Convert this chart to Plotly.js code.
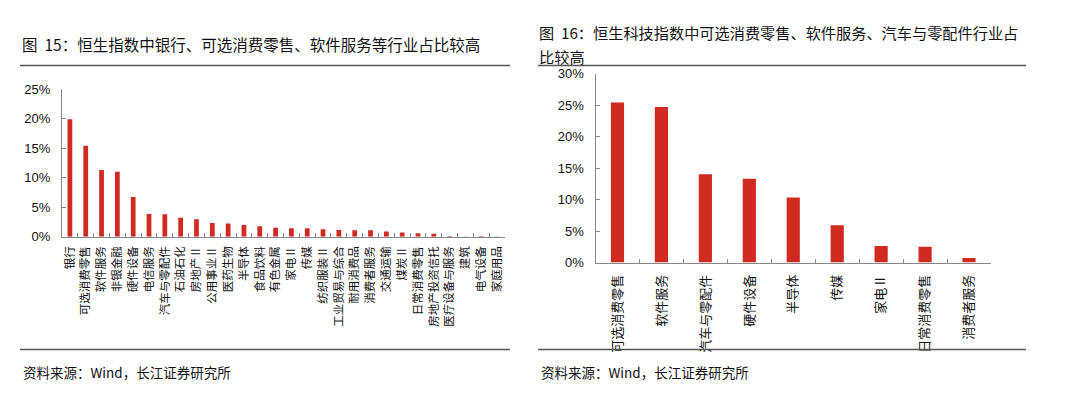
<!DOCTYPE html>
<html>
<head>
<meta charset="utf-8">
<script src="https://cdn.plot.ly/plotly-3.0.1.min.js"></script>
<style>
html,body{margin:0;padding:0;background:#fff;}
#chart{width:1080px;height:398px;}
</style>
</head>
<body>
<div id="chart"></div>
<script>
// Figure 15: Hang Seng Index industry weights
const leftCategories = ['银行','可选消费零售','软件服务','非银金融','硬件设备','电信服务','汽车与零配件','石油石化','房地产Ⅱ','公用事业Ⅱ','医药生物','半导体','食品饮料','有色金属','家电Ⅱ','传媒','纺织服装Ⅱ','工业贸易与综合','耐用消费品','消费者服务','交通运输','煤炭Ⅱ','日常消费零售','房地产投资信托','医疗设备与服务','建筑','电气设备','家庭用品'];
const leftValues = [0.199,0.154,0.113,0.110,0.067,0.0385,0.038,0.032,0.0295,0.023,0.0225,0.020,0.0175,0.0153,0.0142,0.0142,0.0125,0.0113,0.0108,0.0108,0.009,0.0073,0.0058,0.0052,0.001,0.0005,0.001,0.0005];
const leftTicks = [0,0.05,0.10,0.15,0.20,0.25];

// Figure 16: Hang Seng Tech Index industry weights
const rightCategories = ['可选消费零售','软件服务','汽车与零配件','硬件设备','半导体','传媒','家电Ⅱ','日常消费零售','消费者服务'];
const rightValues = [0.254,0.247,0.140,0.133,0.103,0.059,0.026,0.025,0.007];
const rightTicks = [0,0.05,0.10,0.15,0.20,0.25,0.30];

const leftTitle = '图\u00a0\u00a015：恒生指数中银行、可选消费零售、软件服务等行业占比较高';
const rightTitle1 = '图\u00a0\u00a016：恒生科技指数中可选消费零售、软件服务、汽车与零配件行业占';
const rightTitle2 = '比较高';
const sourceText = '资料来源：Wind，长江证券研究所';

const W = 1080, H = 398;
const px = v => v / W;
const py = v => 1 - v / H;

const FONT = 'Liberation Sans, Arial, Noto Sans CJK SC, sans-serif';
const CJK = 'Noto Sans CJK SC, Liberation Sans, sans-serif';
const RED = '#D02B21';
const AX = '#888888';

const traces = [
  {type:'bar', x:leftCategories, y:leftValues, xaxis:'x', yaxis:'y',
   marker:{color:RED, line:{width:0}}, hoverinfo:'skip'},
  {type:'bar', x:rightCategories, y:rightValues, xaxis:'x2', yaxis:'y2',
   marker:{color:RED, line:{width:0}}, hoverinfo:'skip'}
];

const xCommon = {type:'category', showline:true, linecolor:AX, linewidth:1,
  ticks:'inside', tickson:'boundaries', ticklen:4, tickcolor:AX, tickwidth:1,
  tickangle:-90, tickmode:'linear', tick0:0, dtick:1, showgrid:false, zeroline:false,
  fixedrange:true};
const yCommon = {showline:true, linecolor:AX, linewidth:1, ticks:'inside', ticklen:4,
  tickcolor:AX, tickwidth:1, tickformat:'.0%', showgrid:false, zeroline:false,
  tickfont:{family:FONT, size:13, color:'#111'}, fixedrange:true, tickmode:'array'};

const layout = {
  width:W, height:H,
  margin:{l:0,r:0,t:0,b:0},
  paper_bgcolor:'#fff', plot_bgcolor:'rgba(0,0,0,0)',
  showlegend:false,
  bargap:0.7,
  font:{family:FONT, color:'#111'},
  xaxis:Object.assign({}, xCommon, {domain:[px(62), px(505)], anchor:'y',
    range:[-0.5, leftCategories.length-0.5],
    tickfont:{family:CJK, size:11.5, color:'#111'}, ticklabelstandoff:4}),
  yaxis:Object.assign({}, yCommon, {domain:[py(236.7), py(89)], anchor:'x',
    range:[0,0.25], tickvals:leftTicks, ticklabelstandoff:8}),
  xaxis2:Object.assign({}, xCommon, {domain:[px(595.5), px(991)], anchor:'y2',
    range:[-0.5, rightCategories.length-0.5],
    tickfont:{family:CJK, size:13, color:'#111'}, ticklabelstandoff:6}),
  yaxis2:Object.assign({}, yCommon, {domain:[py(262.5), py(73.5)], anchor:'x2',
    range:[0,0.30], tickvals:rightTicks, ticklabelstandoff:8}),
  shapes:[
    {type:'line', xref:'paper', yref:'paper', x0:px(20), x1:px(510), y0:py(65.5), y1:py(65.5), line:{color:'#555', width:1.5}},
    {type:'line', xref:'paper', yref:'paper', x0:px(538), x1:px(1026), y0:py(65.5), y1:py(65.5), line:{color:'#555', width:1.5}},
    {type:'line', xref:'paper', yref:'paper', x0:px(20), x1:px(510), y0:py(349.5), y1:py(349.5), line:{color:'#555', width:1.5}},
    {type:'line', xref:'paper', yref:'paper', x0:px(538), x1:px(1026), y0:py(349.5), y1:py(349.5), line:{color:'#555', width:1.5}}
  ],
  annotations:[
    {text:leftTitle, xref:'paper', yref:'paper', x:px(20), y:py(44), xanchor:'left', yanchor:'middle', showarrow:false,
     font:{family:CJK, size:15.5, color:'#111'}},
    {text:rightTitle1, xref:'paper', yref:'paper', x:px(537), y:py(32), xanchor:'left', yanchor:'middle', showarrow:false,
     font:{family:CJK, size:15.2, color:'#111'}},
    {text:rightTitle2, xref:'paper', yref:'paper', x:px(537), y:py(56), xanchor:'left', yanchor:'middle', showarrow:false,
     font:{family:CJK, size:15.2, color:'#111'}},
    {text:sourceText, xref:'paper', yref:'paper', x:px(21), y:py(372), xanchor:'left', yanchor:'middle', showarrow:false,
     font:{family:CJK, size:13.5, color:'#111'}},
    {text:sourceText, xref:'paper', yref:'paper', x:px(539), y:py(372), xanchor:'left', yanchor:'middle', showarrow:false,
     font:{family:CJK, size:13.5, color:'#111'}}
  ]
};

Plotly.newPlot('chart', traces, layout, {staticPlot:true, displayModeBar:false});
</script>
</body>
</html>
